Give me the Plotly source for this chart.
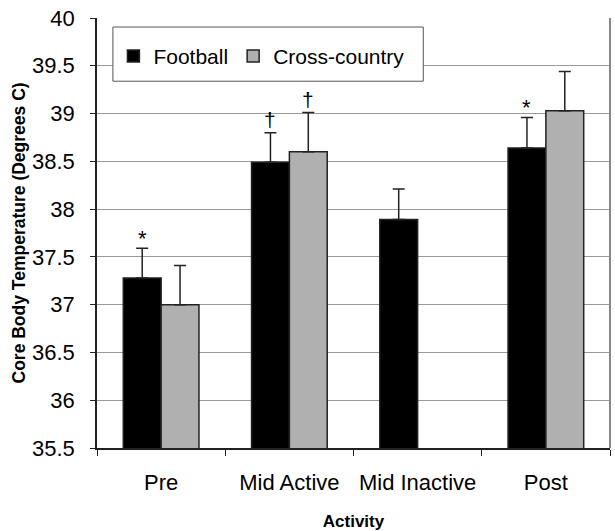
import plotly.graph_objects as go

categories = ["Pre", "Mid Active", "Mid Inactive", "Post"]
football = [37.28, 38.49, 37.89, 38.64]
football_err = [0.31, 0.31, 0.32, 0.32]
cross = [37.00, 38.60, None, 39.03]
cross_err = [0.41, 0.41, None, 0.41]
# significance markers: (category, series, symbol)
markers = [("Pre", 0, "*"), ("Mid Active", 0, "†"), ("Mid Active", 1, "†"), ("Post", 0, "*")]
y_ticks = [35.5, 36, 36.5, 37, 37.5, 38, 38.5, 39, 39.5, 40]

FONT = "Liberation Sans, Arial, sans-serif"

fig = go.Figure()
fig.add_trace(go.Bar(
    name="Football", x=categories, y=football,
    marker=dict(color="black", line=dict(color="#222", width=1.5)),
    error_y=dict(type="data", symmetric=False, array=football_err,
                 arrayminus=[0] * 4, color="#222", thickness=1.5, width=6),
))
fig.add_trace(go.Bar(
    name="Cross-country", x=categories, y=cross,
    marker=dict(color="#b0b0b0", line=dict(color="#222", width=1.5)),
    error_y=dict(type="data", symmetric=False, array=cross_err,
                 arrayminus=[0] * 4, color="#222", thickness=1.5, width=6),
))

series_vals = [football, cross]
series_err = [football_err, cross_err]
for cat, s, sym in markers:
    i = categories.index(cat)
    top = series_vals[s][i] + series_err[s][i]
    fig.add_annotation(
        x=cat, y=top, xref="x", yref="y", text=sym, showarrow=False,
        xshift=-19 if s == 0 else 19, yanchor="bottom", yshift=-5 if sym == "*" else 0,
        font=dict(family=FONT, size=22 if sym == "*" else 21, color="black"),
    )

# y-axis title
fig.add_annotation(
    text="<b>Core Body Temperature (Degrees C)</b>", textangle=-90,
    xref="paper", yref="paper", x=-0.153, y=0.5, xanchor="center", yanchor="middle",
    showarrow=False, font=dict(family=FONT, size=17.5, color="black"),
)

# legend box
fig.add_shape(type="rect", xref="paper", yref="paper",
              x0=0.031, x1=0.636, y0=0.853, y1=0.979,
              line=dict(color="#555", width=1), fillcolor="white", layer="above")
# right frame line
fig.add_shape(type="line", xref="paper", yref="paper", x0=1, x1=1, y0=0, y1=1,
              line=dict(color="#888", width=2))

fig.update_layout(
    width=615, height=531,
    margin=dict(l=97, r=5, t=18, b=83),
    paper_bgcolor="white", plot_bgcolor="white",
    barmode="group", bargap=0.41, bargroupgap=0,
    font=dict(family=FONT, color="black"),
    showlegend=True,
    legend=dict(orientation="h", x=0.032, y=0.911, xanchor="left", yanchor="middle",
                bgcolor="rgba(0,0,0,0)", borderwidth=0,
                font=dict(family=FONT, size=21, color="black"),
                itemwidth=30, traceorder="normal"),
    xaxis=dict(
        showline=True, linecolor="#222", linewidth=1.5,
        ticks="outside", tickson="boundaries", ticklen=6, tickcolor="#222",
        tickfont=dict(family=FONT, size=22, color="black"),
        ticklabelstandoff=14,
        title=dict(text="<b>Activity</b>", font=dict(family=FONT, size=17, color="black"), standoff=21),
        showgrid=False, automargin=False,
    ),
    yaxis=dict(
        range=[35.5, 40], tickvals=y_ticks, ticktext=[f"{v:g}" for v in y_ticks],
        showline=True, linecolor="#222", linewidth=1.5,
        ticks="outside", ticklen=5, tickcolor="#222",
        tickfont=dict(family=FONT, size=22, color="black"),
        ticklabelstandoff=11, ticklabeloverflow="allow",
        showgrid=True, gridcolor="#9a9a9a", gridwidth=1,
        zeroline=False, automargin=False,
    ),
)

fig.write_html("out.html", config={"displayModeBar": False},
               post_script="document.body.style.margin='0';")
